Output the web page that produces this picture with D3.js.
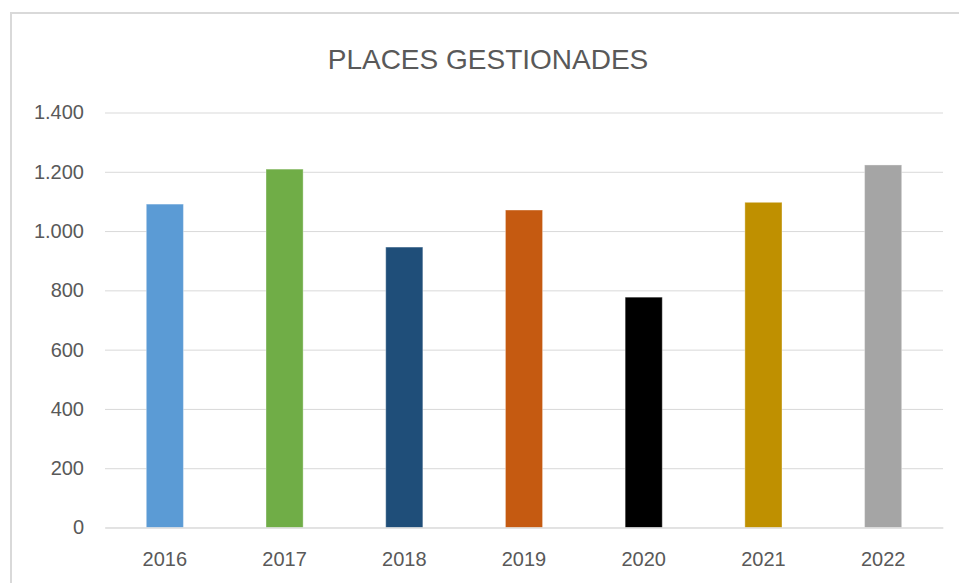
<!DOCTYPE html>
<html>
<head>
<meta charset="utf-8">
<script src="https://cdn.jsdelivr.net/npm/d3@7"></script>
<style>
  html, body { margin: 0; padding: 0; background: #fff; }
  svg { display: block; }
</style>
</head>
<body>
<svg width="959" height="583"></svg>
<script>
const years = ['2016', '2017', '2018', '2019', '2020', '2021', '2022'];
const places = [1091, 1209, 946, 1071, 777, 1097, 1223];
const barColors = ['#5B9BD5', '#70AD47', '#1F4E79', '#C55A11', '#000000', '#BF9000', '#A5A5A5'];
const yTicks = [0, 200, 400, 600, 800, 1000, 1200, 1400];
const title = 'PLACES GESTIONADES';

const svg = d3.select('svg');
const margens = { left: 105, right: 16, top: 112.5, bottom: 55.5 };
const svgWidth = 959, svgHeight = 583;

// marc del gràfic (tallat a la dreta i a baix, com a l'original)
svg.append('rect')
    .attr('x', 11)
    .attr('y', 13)
    .attr('width', 1000)
    .attr('height', 1000)
    .attr('fill', '#fff')
    .attr('stroke', '#D9D9D9')
    .attr('stroke-width', 2);

const x = d3.scaleBand()
    .domain(years)
    .range([margens.left, svgWidth - margens.right])
    .paddingInner(0.69)
    .paddingOuter(0.345);

const y = d3.scaleLinear()
    .domain([0, 1400])
    .range([svgHeight - margens.bottom, margens.top]);

const locale = d3.formatLocale({ decimal: ',', thousands: '.', grouping: [3], currency: ['', ' €'] });
const fmt = locale.format(',');

svg.append('text')
    .attr('x', 488)
    .attr('y', 69)
    .attr('text-anchor', 'middle')
    .attr('font-family', 'Liberation Sans, Arial, sans-serif')
    .attr('font-size', 28)
    .attr('fill', '#595959')
    .text(title);

// línies de graella
const yAxis = svg.append('g')
    .attr('transform', `translate(${margens.left},0)`)
    .call(d3.axisLeft(y).tickValues(yTicks).tickFormat(fmt)
        .tickSize(-(svgWidth - margens.right - margens.left)).tickPadding(21));
yAxis.select('.domain').remove();
yAxis.selectAll('.tick line').attr('stroke', '#D9D9D9').attr('stroke-width', 1);
yAxis.selectAll('.tick text')
    .attr('fill', '#595959')
    .attr('font-family', 'Liberation Sans, Arial, sans-serif')
    .attr('font-size', 20);

svg.append('g')
    .selectAll('rect')
    .data(places)
    .join('rect')
        .attr('x', (d, i) => x(years[i]))
        .attr('y', d => y(d))
        .attr('width', x.bandwidth())
        .attr('height', d => y(0) - y(d))
        .attr('fill', (d, i) => barColors[i])
        .attr('stroke', '#ffffff')
        .attr('stroke-opacity', 0.35)
        .attr('stroke-width', 1);

const xAxis = svg.append('g')
    .attr('transform', `translate(0,${y(0)})`)
    .call(d3.axisBottom(x).tickSize(0).tickPadding(24));
xAxis.select('.domain').attr('stroke', '#D9D9D9');
xAxis.selectAll('.tick text')
    .attr('fill', '#595959')
    .attr('font-family', 'Liberation Sans, Arial, sans-serif')
    .attr('font-size', 20);
</script>
</body>
</html>
